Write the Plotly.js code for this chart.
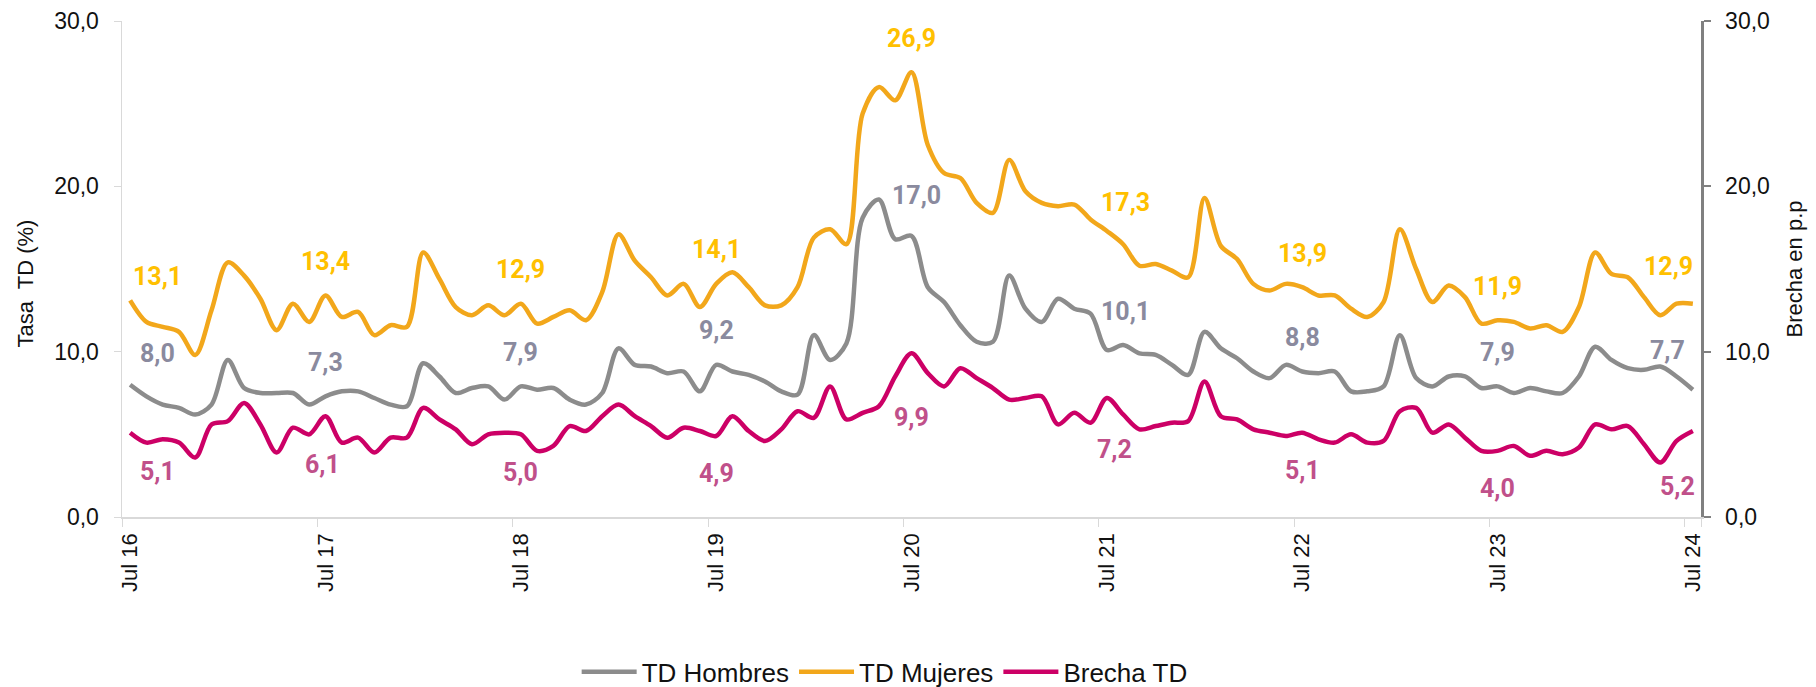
<!DOCTYPE html>
<html>
<head>
<meta charset="utf-8">
<script src="https://cdn.plot.ly/plotly-3.0.1.min.js"></script>
<style>html,body{margin:0;padding:0;background:#fff}#chart{width:1816px;height:687px}</style>
</head>
<body>
<div id="chart"></div>
<script>
// ---- categories ----
const monthNames = ['Ene','Feb','Mar','Abr','May','Jun','Jul','Ago','Sep','Oct','Nov','Dic'];
const startYear = 2016, startMonthIdx = 6, nMonths = 97;
const months = [];
for (let k = 0; k < nMonths; k++) {
  const m = (startMonthIdx + k) % 12;
  const y = startYear + Math.floor((startMonthIdx + k) / 12);
  months.push(monthNames[m] + ' ' + String(y).slice(2));
}
const tickLabels = ['Jul 16','Jul 17','Jul 18','Jul 19','Jul 20','Jul 21','Jul 22','Jul 23','Jul 24'];

// ---- series values ----
const tdHombres = [
  8.0, 7.3, 6.8, 6.6, 6.2, 6.8, 9.5, 7.8, 7.5, 7.5, 7.5, 6.8, 7.3, 7.6, 7.6, 7.2,
  6.8, 6.7, 9.3, 8.5, 7.5, 7.8, 7.9, 7.1, 7.9, 7.7, 7.8, 7.1, 6.8, 7.5, 10.2, 9.2,
  9.1, 8.7, 8.8, 7.6, 9.2, 8.8, 8.6, 8.2, 7.6, 7.4, 11.0, 9.5, 10.5, 18.1, 19.2, 16.8,
  17.0, 13.9, 13.0, 11.6, 10.6, 10.6, 14.6, 12.6, 11.8, 13.2, 12.6, 12.3, 10.1, 10.4, 9.9, 9.8,
  9.2, 8.6, 11.2, 10.2, 9.6, 8.8, 8.4, 9.2, 8.8, 8.7, 8.8, 7.6, 7.6, 7.9, 11.0, 8.4,
  7.9, 8.5, 8.5, 7.8, 7.9, 7.5, 7.8, 7.6, 7.5, 8.5, 10.3, 9.5, 9.0, 8.9, 9.1, 8.5, 7.7
];
const tdMujeres = [
  13.1, 11.8, 11.5, 11.2, 9.8, 12.5, 15.4, 14.6, 13.2, 11.3, 12.9, 11.8, 13.4, 12.1, 12.4, 11.0,
  11.6, 11.5, 16.0, 14.4, 12.7, 12.2, 12.8, 12.2, 12.9, 11.7, 12.1, 12.5, 11.9, 13.6, 17.1, 15.5,
  14.5, 13.4, 14.1, 12.7, 14.1, 14.8, 13.9, 12.8, 12.8, 13.9, 16.9, 17.4, 16.5, 24.4, 26.0, 25.2,
  26.9, 22.5, 20.8, 20.5, 19.0, 18.4, 21.6, 19.7, 19.0, 18.8, 18.9, 18.0, 17.3, 16.5, 15.2, 15.3,
  14.9, 14.5, 19.3, 16.4, 15.6, 14.1, 13.7, 14.1, 13.9, 13.4, 13.4, 12.6, 12.1, 13.0, 17.4, 15.0,
  13.0, 14.0, 13.3, 11.7, 11.9, 11.8, 11.4, 11.6, 11.2, 12.7, 16.0, 14.7, 14.5, 13.3, 12.2, 12.9, 12.9
];
const brechaTD = [
  5.1, 4.5, 4.7, 4.5, 3.6, 5.6, 5.8, 6.9, 5.6, 3.9, 5.4, 5.0, 6.1, 4.5, 4.8, 3.9,
  4.8, 4.8, 6.6, 5.9, 5.3, 4.4, 5.0, 5.1, 5.0, 4.0, 4.3, 5.5, 5.2, 6.1, 6.8, 6.1,
  5.5, 4.8, 5.4, 5.2, 4.9, 6.1, 5.2, 4.6, 5.3, 6.4, 6.0, 7.9, 5.9, 6.3, 6.7, 8.5,
  9.9, 8.7, 7.9, 9.0, 8.4, 7.8, 7.1, 7.2, 7.3, 5.6, 6.3, 5.7, 7.2, 6.2, 5.3, 5.5,
  5.7, 5.8, 8.2, 6.1, 5.9, 5.3, 5.1, 4.9, 5.1, 4.7, 4.5, 5.0, 4.5, 4.6, 6.4, 6.6,
  5.1, 5.6, 4.8, 4.0, 4.0, 4.3, 3.7, 4.0, 3.8, 4.2, 5.6, 5.3, 5.5, 4.4, 3.3, 4.6, 5.2
];

// ---- styles ----
const colors = { hombres: '#8c8c8c', mujeres: '#f2a71b', brecha: '#cc0066' };
const labelColors = { hombres: '#8a8a9e', mujeres: '#ffc000', brecha: '#c0508a' };
const baseFamily = 'Liberation Sans, Arial, sans-serif';
const yTickFont = { family: baseFamily, size: 23, color: '#111' };
const xTickFont = { family: baseFamily, size: 22, color: '#111' };
const titleFont = { family: baseFamily, size: 22, color: '#111' };
const labelFont = { family: 'Roboto, sans-serif', size: 25, weight: 700 };
// pixel offsets of data labels, keyed by July label; default otherwise
const labelOffsets = {
  mujeres: { def: [0, 34], 'Jul 16': [27, 24], 'Jul 21': [19, 28], 'Jul 24': [-24, 37] },
  hombres: { def: [0, 34], 'Jul 16': [27, 31], 'Jul 20': [5, 40], 'Jul 21': [19, 39], 'Jul 24': [-25, 39] },
  brecha:  { def: [0, -38], 'Jul 16': [27, -39], 'Jul 17': [-3, -48], 'Jul 20': [0, -64], 'Jul 21': [8, -52], 'Jul 24': [-15, -55] }
};

const fmt = v => v.toFixed(1).replace('.', ',');

const lineStyle = (c) => ({ color: c, width: 4.5, shape: 'spline', smoothing: 0.9 });
const traces = [
  { x: months, y: tdHombres, name: 'TD Hombres', type: 'scatter', mode: 'lines', line: lineStyle(colors.hombres) },
  { x: months, y: tdMujeres, name: 'TD Mujeres', type: 'scatter', mode: 'lines', line: lineStyle(colors.mujeres) },
  { x: months, y: brechaTD, name: 'Brecha TD', type: 'scatter', mode: 'lines', line: lineStyle(colors.brecha), yaxis: 'y2' }
];

const annotations = [];
const seriesDefs = [
  ['mujeres', tdMujeres, 'y'],
  ['hombres', tdHombres, 'y'],
  ['brecha', brechaTD, 'y2']
];
tickLabels.forEach(lbl => {
  const idx = months.indexOf(lbl);
  seriesDefs.forEach(([key, arr, yref]) => {
    const off = labelOffsets[key][lbl] || labelOffsets[key].def;
    annotations.push({
      x: lbl, y: arr[idx], xref: 'x', yref: yref,
      text: fmt(arr[idx]), showarrow: false,
      xshift: off[0], yshift: off[1],
      font: Object.assign({}, labelFont, { color: labelColors[key] })
    });
  });
});
// left axis title (placed as annotation for exact position)
annotations.push({
  text: 'Tasa  TD (%)', xref: 'paper', yref: 'paper', x: -0.061, y: 0.47,
  xanchor: 'center', yanchor: 'middle', textangle: -90, showarrow: false, font: titleFont
});

const layout = {
  width: 1816, height: 687,
  margin: { l: 122, r: 115, t: 21, b: 170, autoexpand: false },
  paper_bgcolor: '#fff', plot_bgcolor: '#fff',
  separators: ',.',
  showlegend: true,
  legend: {
    orientation: 'h', x: 0.483, xanchor: 'center',
    yref: 'container', y: 0.022, yanchor: 'middle',
    font: { family: baseFamily, size: 26, color: '#111' },
    itemwidth: 55, tracegroupgap: 0
  },
  xaxis: {
    type: 'category', categoryorder: 'array', categoryarray: months,
    range: [-0.5, nMonths - 0.5],
    tickmode: 'array', tickvals: tickLabels, ticktext: tickLabels,
    tickson: 'boundaries', ticks: 'outside', ticklen: 8, tickcolor: '#d9d9d9', tickwidth: 1,
    tickangle: -90, tickfont: xTickFont, ticklabelstandoff: 6,
    showline: true, linecolor: '#d9d9d9', linewidth: 1.5,
    showgrid: false, zeroline: false, fixedrange: true
  },
  yaxis: {
    range: [0, 30], tickvals: [0, 10, 20, 30], tickformat: '.1f',
    ticks: 'outside', ticklen: 7, tickcolor: '#d9d9d9',
    showline: true, linecolor: '#d9d9d9', linewidth: 1.5,
    showgrid: false, zeroline: false, tickfont: yTickFont, ticklabelstandoff: 10
  },
  yaxis2: {
    overlaying: 'y', side: 'right', anchor: 'x',
    range: [0, 30], tickvals: [0, 10, 20, 30], tickformat: '.1f',
    ticks: 'outside', ticklen: 7, tickcolor: '#808080', tickwidth: 2,
    showline: true, linecolor: '#808080', linewidth: 2.5,
    showgrid: false, zeroline: false, tickfont: yTickFont, ticklabelstandoff: 10,
    title: { text: 'Brecha en p.p', font: titleFont, standoff: 18 }
  },
  annotations: annotations
};

Plotly.newPlot('chart', traces, layout, { displayModeBar: false, staticPlot: true });
</script>
</body>
</html>
